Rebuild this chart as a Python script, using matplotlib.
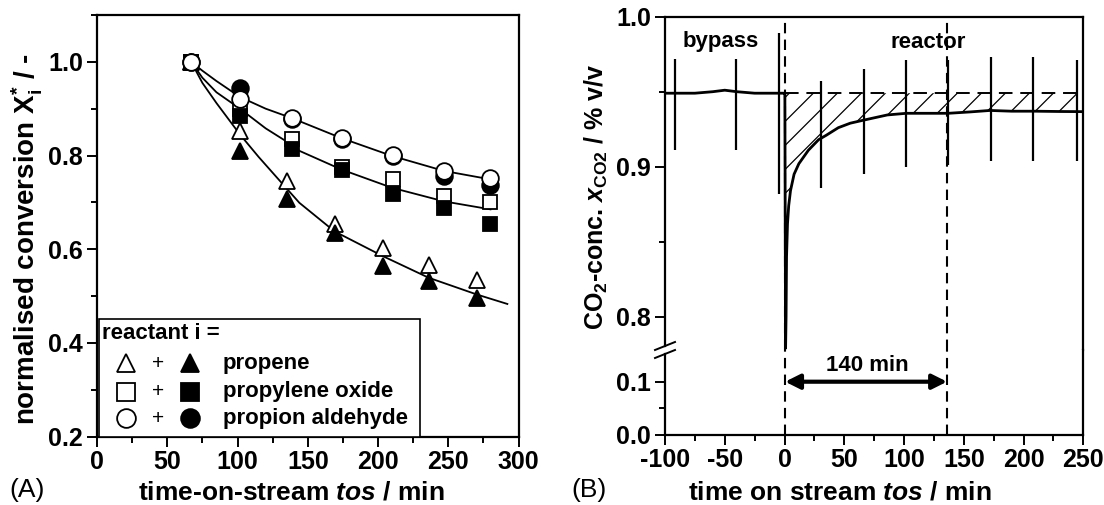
import matplotlib
matplotlib.use("Agg")
import matplotlib.pyplot as plt
from matplotlib.lines import Line2D
from matplotlib.patches import Rectangle
from matplotlib.ticker import MultipleLocator, FixedLocator
import numpy as np

# ---------------- data: panel A (normalised conversion) ----------------
tos_tri = [67, 101.5, 135, 169, 203.5, 236, 270.5]
tri_open = [1.0, 0.852, 0.746, 0.653, 0.603, 0.567, 0.535]
tri_fill = [1.0, 0.810, 0.707, 0.635, 0.563, 0.531, 0.496]

tos_sq = [67, 101.7, 138.5, 174, 210.4, 247, 280]
sq_open = [1.0, 0.899, 0.835, 0.775, 0.749, 0.713, 0.701]
sq_fill = [1.0, 0.884, 0.813, 0.768, 0.717, 0.688, 0.654]

tos_ci = [67, 101.7, 138.5, 174, 210.4, 247, 280]
ci_open = [1.0, 0.920, 0.881, 0.838, 0.802, 0.767, 0.751]
ci_fill = [1.0, 0.945, 0.879, 0.836, 0.800, 0.757, 0.737]

# fitted curves
fit_tri_t = [67, 75, 85, 101.7, 115, 128, 144, 169, 203.5, 236, 270.5, 292]
fit_tri_v = [1.0, 0.955, 0.912, 0.845, 0.797, 0.753, 0.699, 0.638, 0.585, 0.539, 0.503, 0.483]
fit_sq_t = [67, 75, 85, 101.7, 120, 138.5, 144, 174, 210, 247, 280]
fit_sq_v = [1.0, 0.966, 0.935, 0.900, 0.858, 0.823, 0.810, 0.770, 0.731, 0.702, 0.685]
fit_ci_t = [67, 75, 85, 101.7, 120, 138.5, 174, 210, 247, 280]
fit_ci_v = [1.0, 0.981, 0.959, 0.925, 0.900, 0.880, 0.837, 0.799, 0.767, 0.749]

# ---------------- data: panel B (CO2 trace) ----------------
trace_t = [-100, -92, -75, -60, -50, -40, -25, -10, -5, -0.5, 0.3, 0.6, 0.9,
           1.3, 1.7, 2.5, 3.5, 5, 8, 12, 20, 28.5, 35, 45, 55, 66, 86, 102,
           120, 137, 155, 172, 190, 210, 230, 250]
trace_x = [0.949, 0.949, 0.949, 0.950, 0.951, 0.950, 0.949, 0.949, 0.949, 0.949,
           0.949, 0.86, 0.779, 0.80, 0.84, 0.862, 0.874, 0.884, 0.895, 0.902,
           0.911, 0.918, 0.921, 0.926, 0.929, 0.931, 0.9345, 0.9356, 0.9356,
           0.9356, 0.9365, 0.9375, 0.937, 0.937, 0.9368, 0.9367]
spike_t = [-92, -40.5, -4.7, 30.3, 66.5, 101.5, 137, 172.5, 208, 244.8]
spike_hi = [0.972, 0.972, 0.989, 0.957, 0.965, 0.971, 0.971, 0.973, 0.973, 0.971]
spike_lo = [0.911, 0.911, 0.882, 0.886, 0.895, 0.900, 0.901, 0.904, 0.904, 0.904]
x_bypass = 0.949
t_switch = 0
t_steady = 136
t_hatch_end = 245
hatch_lo_start = 0.882   # lowest point of the hatched area at the switch

# ---------------- fonts ----------------
fam = "Liberation Sans"
plt.rcParams["font.family"] = [fam, "DejaVu Sans"]
plt.rcParams["font.weight"] = "bold"
plt.rcParams["mathtext.fontset"] = "custom"
plt.rcParams["mathtext.rm"] = f"{fam}:bold"
plt.rcParams["mathtext.bf"] = f"{fam}:bold"
plt.rcParams["mathtext.it"] = f"{fam}:italic:bold"
plt.rcParams["axes.unicode_minus"] = False

W, H = 1104, 505
fig = plt.figure(figsize=(W / 100, H / 100), dpi=100)


def box(x0, y0, x1, y1):
    # pixel box (top-left origin) -> figure fraction rect
    return [x0 / W, 1 - y1 / H, (x1 - x0) / W, (y1 - y0) / H]


def fx(px):
    return px / W


def fy(py):
    return 1 - py / H


TICK = 18
LAB = 19


def style(ax):
    for s in ax.spines.values():
        s.set_linewidth(1.6)
    ax.tick_params(which="major", direction="out", length=7, width=1.4,
                   labelsize=TICK, pad=3)
    ax.tick_params(which="minor", direction="out", length=4.3, width=1.4)
    ax.tick_params(top=False, right=False)
    for lab in ax.get_xticklabels() + ax.get_yticklabels():
        lab.set_fontweight("bold")


# ================= panel A =================
axA = fig.add_axes(box(97, 15, 518.6, 436.5))
axA.set_xlim(0, 300)
axA.set_ylim(0.2, 1.1)
axA.xaxis.set_major_locator(MultipleLocator(50))
axA.xaxis.set_minor_locator(MultipleLocator(25))
axA.yaxis.set_major_locator(FixedLocator([0.2, 0.4, 0.6, 0.8, 1.0]))
axA.yaxis.set_minor_locator(FixedLocator([0.3, 0.5, 0.7, 0.9, 1.1]))
axA.yaxis.set_major_formatter(plt.FuncFormatter(lambda v, p: f"{v:.1f}"))

for t, v in [(fit_tri_t, fit_tri_v), (fit_sq_t, fit_sq_v), (fit_ci_t, fit_ci_v)]:
    axA.plot(t, v, color="black", lw=1.3, zorder=2)

ms = 12
mew = 1.3
axA.plot(tos_tri, tri_open, ls="none", marker="^", ms=ms, mfc="white", mec="black", mew=mew, zorder=3)
axA.plot(tos_tri, tri_fill, ls="none", marker="^", ms=ms, mfc="black", mec="black", mew=mew, zorder=4)
axA.plot(tos_sq, sq_open, ls="none", marker="s", ms=ms - 1.5, mfc="white", mec="black", mew=mew, zorder=3)
axA.plot(tos_sq, sq_fill, ls="none", marker="s", ms=ms - 1.5, mfc="black", mec="black", mew=mew, zorder=4)
axA.plot(tos_ci, ci_fill, ls="none", marker="o", ms=ms, mfc="black", mec="black", mew=mew, zorder=3)
axA.plot(tos_ci, ci_open, ls="none", marker="o", ms=ms, mfc="white", mec="black", mew=mew, zorder=4)

# hand-made legend box
tr = axA.transAxes
axA.add_patch(Rectangle((0.0045, 0.0), 0.7615, 0.278, transform=tr, facecolor="white",
                        edgecolor="black", lw=1.2, zorder=5))
axA.text(0.0116, 0.2453, "reactant i =", transform=tr, fontsize=16, fontweight="bold",
         va="center", ha="left", zorder=6)
rows = [(0.1737, "^", "propene"), (0.1063, "s", "propylene oxide"), (0.0432, "o", "propion aldehyde")]
for yy, mk, name in rows:
    m = 13.5 if mk != "s" else 12.5
    axA.plot([0.0679], [yy], transform=tr, marker=mk, ms=m, mfc="white", mec="black",
             mew=1.3, ls="none", zorder=6, clip_on=False)
    axA.text(0.1445, yy, "+", transform=tr, fontsize=15, fontweight="normal",
             ha="center", va="center", zorder=6)
    axA.plot([0.2214], [yy], transform=tr, marker=mk, ms=m, mfc="black", mec="black",
             mew=1.3, ls="none", zorder=6, clip_on=False)
    axA.text(0.2987, yy, name, transform=tr, fontsize=16, fontweight="bold",
             ha="left", va="center", zorder=6)

style(axA)

fig.text(fx(291), fy(492), r"time-on-stream $\mathit{tos}$ / min", fontsize=LAB,
         fontweight="bold", ha="center", va="center")
fig.text(fx(27), fy(239), r"normalised conversion $\mathrm{X}_{\mathrm{i}}^{*}$ / -",
         fontsize=20, fontweight="bold", ha="center", va="center", rotation=90)
fig.text(fx(27), fy(490), "(A)", fontsize=LAB, fontweight="normal", ha="center", va="center")

# ================= panel B =================
BREAK = 350
axU = fig.add_axes(box(665, 16.7, 1083.3, BREAK))
axL = fig.add_axes(box(665, BREAK, 1083.3, 434.5), sharex=axU)
axU.set_xlim(-100, 250)
axU.set_ylim(0.8 - (BREAK - 316.7) / 1500, 1.0)
axL.set_ylim(0, 0.1 + (434.5 - BREAK - 52.8) / 528)

axU.xaxis.set_major_locator(MultipleLocator(50))
axU.xaxis.set_minor_locator(MultipleLocator(25))
axU.yaxis.set_major_locator(FixedLocator([0.8, 0.9, 1.0]))
axU.yaxis.set_minor_locator(FixedLocator([0.85, 0.95]))
axL.yaxis.set_major_locator(FixedLocator([0.0, 0.1]))
axL.yaxis.set_minor_locator(FixedLocator([0.05]))
for a in (axU, axL):
    a.yaxis.set_major_formatter(plt.FuncFormatter(lambda v, p: f"{v:.1f}"))

axU.spines["bottom"].set_visible(False)
axL.spines["top"].set_visible(False)
style(axU)
style(axL)
axU.tick_params(axis="x", which="both", bottom=False, labelbottom=False)
# small gap in the left spine at the break
axU.spines["left"].set_bounds(axU.get_ylim()[0] + 4 / 1500, 1.0)
axL.spines["left"].set_bounds(0, axL.get_ylim()[1] - 4 / 528)

# trace and spikes
axU.plot(trace_t, trace_x, color="black", lw=2.0, zorder=4, solid_joinstyle="round")
axU.vlines(spike_t, spike_lo, spike_hi, color="black", lw=1.6, zorder=4)

# bypass level and hatched area
axU.plot([t_switch, 250], [x_bypass, x_bypass], color="black", lw=1.4,
         dashes=(7, 4), zorder=3)
tt = np.array(trace_t)
xx = np.array(trace_x)
sel = (tt >= 5) & (tt <= t_hatch_end)
ht = np.concatenate([[t_switch + 0.8], tt[sel], [t_hatch_end]])
hx = np.concatenate([[hatch_lo_start], xx[sel], [np.interp(t_hatch_end, tt, xx)]])
poly = axU.fill_between(ht, hx, x_bypass, facecolor="none", edgecolor="none")
clip = poly.get_paths()[0]
px_per_min = (1083.3 - 665) / 350
px_per_unit = 1500
slope = 1.0 * px_per_min / px_per_unit     # data units per minute (45 deg on screen)
spacing = 24 / px_per_min                  # minutes between lines along the top edge
for t_top in np.arange(t_switch + 4, t_hatch_end + 120, spacing):
    lt = np.array([t_top - 150, t_top])
    ln, = axU.plot(lt, x_bypass - slope * (t_top - lt), color="black", lw=0.9, zorder=2)
    ln.set_clip_path(clip, transform=axU.transData)

# vertical dashed markers
for a in (axU, axL):
    for tv in (t_switch, t_steady):
        a.axvline(tv, color="black", lw=1.5, dashes=(5, 3), zorder=3)

# break marks on the left axis
for dy in (-4, 4):
    fig.add_artist(Line2D([fx(655), fx(675)], [fy(BREAK + dy + 4), fy(BREAK + dy - 4)],
                          color="black", lw=1.4))

# 140 min arrow
axL.annotate("", xy=(t_steady, 0.1), xytext=(t_switch + 0.5, 0.1),
             arrowprops=dict(arrowstyle="<|-|>", color="black", lw=3,
                             mutation_scale=22, shrinkA=0, shrinkB=0))
axL.text((t_switch + t_steady) / 2 + 1, 0.1 + 16 / 528, "140 min", fontsize=16,
         fontweight="bold", ha="center", va="center")

fig.text(fx(721), fy(42), "bypass", fontsize=16, fontweight="bold", ha="center", va="center")
fig.text(fx(928), fy(42), "reactor", fontsize=16, fontweight="bold", ha="center", va="center")

fig.text(fx(840), fy(492), r"time on stream $\mathit{tos}$ / min", fontsize=LAB,
         fontweight="bold", ha="center", va="center")
fig.text(fx(596), fy(197), r"CO$_{2}$-conc. $\mathit{x}_{\mathrm{CO2}}$ / % v/v",
         fontsize=18, fontweight="bold", ha="center", va="center", rotation=90)
fig.text(fx(589), fy(490), "(B)", fontsize=LAB, fontweight="normal", ha="center", va="center")

fig.savefig("out.png", dpi=100)
